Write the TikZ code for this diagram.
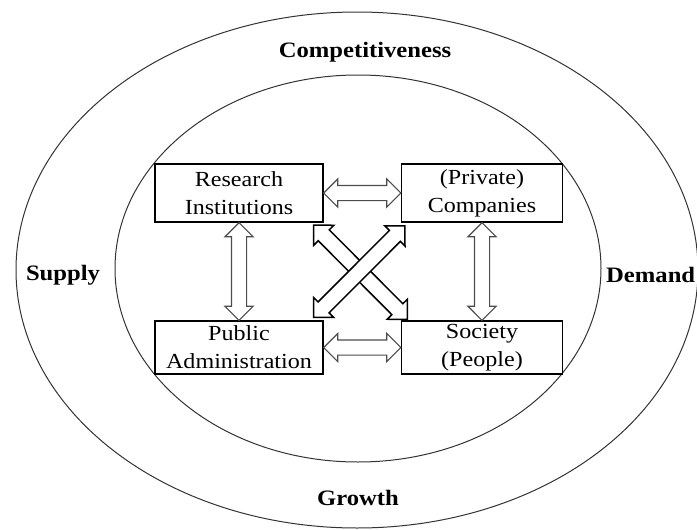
\documentclass[tikz,border=0pt]{standalone}
\usepackage{fontspec}
\setmainfont{Liberation Serif}[FakeStretch=1.12]
\usetikzlibrary{shapes.arrows,calc}

% hollow two-headed arrow stretched between two points
\newcommand{\linkarrow}[3][]{%
  \path let \p1=($(#3)-(#2)$), \n1={veclen(\x1,\y1)} in
    (#2) -- (#3) node[link,#1,midway,sloped,minimum height=\n1] {};}

\begin{document}
\begin{tikzpicture}[x=1pt,y=-1pt,
  actor/.style={draw,line width=1.3pt,fill=white,minimum width=168pt,minimum height=58pt,
    inner sep=0pt,align=center,font=\fontsize{21.5}{28}\selectfont},
  ring/.style={line width=1pt,draw=black!80},
  ringlabel/.style={inner sep=0pt,font=\fontsize{22}{24}\selectfont\bfseries},
  link/.style={double arrow,draw=black!70,line width=1.2pt,fill=white,inner sep=7pt,
    double arrow head extend=6.5pt,double arrow tip angle=90},
  cross/.style={draw=black,line width=1.5pt}]
\useasboundingbox (0,0) rectangle (697,530);

% the two rings
\draw[ring] (357,270) ellipse [x radius=341, y radius=258];
\draw[ring] (358,268.5) ellipse [x radius=243, y radius=193.5];

\node[ringlabel] (comp) at (365,52) {Competitiveness};
\node[ringlabel] (grow) at (358,498) {Growth};
\node[ringlabel] (supp) at (63,275) {Supply};
\node[ringlabel,anchor=west] (dema) at (606,275) {Demand};

% the four actors
\node[actor] (ri) at (239,193) {Research\\Institutions};
\node[actor,minimum width=161pt] (pc) at (482,193) {(Private)\\Companies};
\node[actor,minimum height=53pt] (pa) at (239,347.5) {Public\\Administration};
\node[actor,minimum width=161pt,minimum height=53pt] (sp) at (482,347.5) {Society\\(People)};

\linkarrow{ri.east}{pc.west}
\linkarrow{pa.east}{sp.west}
\linkarrow{ri.south}{pa.north}
\linkarrow{pc.south}{sp.north}

% crossing links
\coordinate (x1) at ([xshift=-10pt,yshift=-2.5pt]ri.south east);
\coordinate (x2) at ([xshift=6.6pt,yshift=1pt]sp.north west);
\coordinate (x3) at ([xshift=4.3pt,yshift=-3pt]pc.south west);
\coordinate (x4) at ([xshift=-10.3pt,yshift=2.7pt]pa.north east);
\linkarrow[cross]{x1}{x2}
\linkarrow[cross]{x3}{x4}
\end{tikzpicture}
\end{document}
